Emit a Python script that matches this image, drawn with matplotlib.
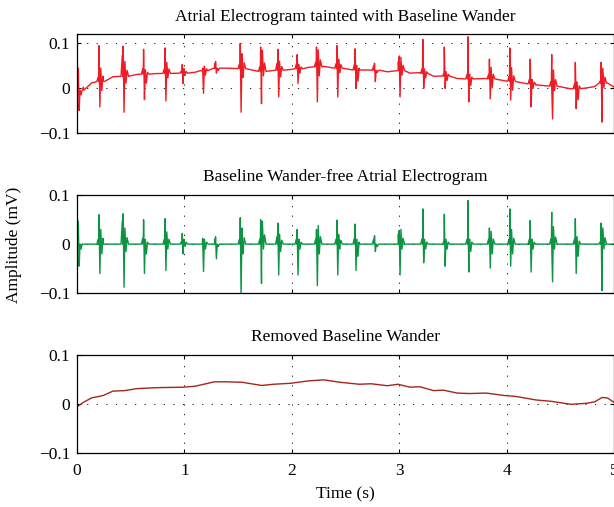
import numpy as np
import matplotlib
matplotlib.use('Agg')
import matplotlib.pyplot as plt
from matplotlib.ticker import FuncFormatter

plt.rcParams['font.family'] = ['Liberation Serif', 'DejaVu Serif']
plt.rcParams['font.size'] = 12.5

# beat times (s) and deflections
beat_t = [0.012, 0.205, 0.43, 0.62, 0.82, 0.98, 1.17, 1.29, 1.52, 1.71, 1.87, 2.05, 2.23,
          2.42, 2.59, 2.77, 3.00, 3.22, 3.42, 3.64, 3.84, 4.03, 4.22, 4.42, 4.64, 4.88]
clean_pre = [0.0, 0.01, 0.047, 0.012, 0.01, 0.005, 0.0, 0.01, 0.01, 0.01, 0.015, 0.01, 0.01,
             0.01, 0.012, 0.01, 0.02, 0.01, 0.005, 0.01, 0.01, 0.01, 0.01, 0.01, 0.01, 0.005]
clean_up = [0.047, 0.06, 0.062, 0.05, 0.052, 0.022, 0.012, 0.015, 0.054, 0.05, 0.043, 0.03, 0.03,
            0.049, 0.041, 0.017, 0.028, 0.072, 0.061, 0.089, 0.033, 0.072, 0.048, 0.065, 0.052, 0.043]
clean_down = [-0.045, -0.06, -0.088, -0.06, -0.054, -0.02, -0.056, -0.03, -0.105, -0.08, -0.063, -0.063, -0.085,
              -0.063, -0.054, -0.015, -0.063, -0.038, -0.045, -0.057, -0.049, -0.045, -0.057, -0.077, -0.06, -0.095]
clean_after = [0.0, 0.03, 0.033, 0.01, 0.025, 0.01, 0.01, 0.0, 0.033, 0.047, 0.02, 0.01, 0.038,
               0.02, 0.01, 0.0, 0.03, 0.01, 0.01, 0.01, 0.026, 0.03, 0.01, 0.036, 0.015, 0.033]
clean_tail = [-0.01, -0.02, -0.015, -0.02, -0.01, -0.005, -0.01, -0.005, -0.02, -0.01, -0.015, -0.01, -0.02,
              -0.01, -0.025, -0.005, -0.01, -0.01, -0.01, -0.015, -0.02, -0.02, -0.01, -0.01, -0.025, -0.01]
# tainted signal peaks (absolute values)
raw_up = [0.045, 0.095, 0.094, 0.087, 0.09, 0.053, 0.045, 0.06, 0.10, 0.092, 0.087, 0.075, 0.092,
          0.095, 0.088, 0.056, 0.071, 0.109, 0.092, 0.115, 0.065, 0.09, 0.065, 0.075, 0.058, 0.058]
raw_down = [-0.049, -0.041, -0.053, -0.025, -0.028, 0.011, -0.011, 0.034, -0.053, -0.034, -0.019, 0.011, -0.03,
            -0.019, 0.0, 0.015, -0.019, 0.0, 0.0, -0.03, -0.023, -0.026, -0.041, -0.068, -0.045, -0.075]

# removed baseline wander
bw_t = [0.0, 0.06, 0.135, 0.244, 0.335, 0.444, 0.554, 0.736, 0.99, 1.10, 1.28, 1.39, 1.54, 1.72,
        1.83, 1.99, 2.16, 2.30, 2.45, 2.63, 2.74, 2.89, 2.99, 3.10, 3.19, 3.32, 3.41, 3.54, 3.65,
        3.81, 3.98, 4.09, 4.27, 4.42, 4.60, 4.74, 4.82, 4.89, 4.94, 5.0]
bw_v = [-0.006, 0.003, 0.012, 0.017, 0.026, 0.027, 0.031, 0.033, 0.034, 0.036, 0.045, 0.045, 0.044, 0.0375,
        0.040, 0.042, 0.047, 0.049, 0.044, 0.040, 0.041, 0.037, 0.040, 0.034, 0.035, 0.027, 0.028, 0.022, 0.021,
        0.022, 0.017, 0.015, 0.008, 0.005, -0.001, 0.001, 0.004, 0.013, 0.012, 0.003]

titles = ['Atrial Electrogram tainted with Baseline Wander',
          'Baseline Wander-free Atrial Electrogram',
          'Removed Baseline Wander']


def beat_path(base_t, base_v, pre, up, down, after, tail):
    t_out, v_out = [], []
    for i, t in enumerate(beat_t):
        b = np.interp(t, base_t, base_v)
        t_out += [t - 0.02, t - 0.008, t - 0.003, t, t + 0.008, t + 0.016, t + 0.026, t + 0.036, t + 0.05]
        v_out += [b, b + pre[i], b, up[i], down[i], b + after[i], b + tail[i], b + 0.4 * after[i], b]
    # add the baseline knots in between
    t_all = np.concatenate([t_out, base_t])
    v_all = np.concatenate([v_out, base_v])
    keep = t_all >= 0
    t_all, v_all = t_all[keep], v_all[keep]
    order = np.argsort(t_all, kind='stable')
    return t_all[order], v_all[order]


zero = [0.0] * len(bw_t)
t_clean, v_clean = beat_path(np.array(bw_t), np.array(zero), clean_pre,
                             clean_up, clean_down, clean_after, clean_tail)
t_raw, v_raw = beat_path(np.array(bw_t), np.array(bw_v), clean_pre,
                         raw_up, raw_down, clean_after, clean_tail)


def fmt(v, pos):
    if abs(v) < 1e-9:
        return '0'
    return ('%g' % v).replace('-', '\u2212')


fig = plt.figure(figsize=(6.14, 5.07), dpi=100)
boxes = [[0.1254, 0.737, 0.8746, 0.195],
         [0.1254, 0.422, 0.8746, 0.193],
         [0.1254, 0.107, 0.8746, 0.193]]
series = [(t_raw, v_raw, '#ee1c24', (-0.1, 0.12)),
          (t_clean, v_clean, '#0b9444', (-0.1, 0.1)),
          (bw_t, bw_v, '#a3271c', (-0.1, 0.1))]

for i, (tt, vv, col, yl) in enumerate(series):
    ax = fig.add_axes(boxes[i])
    ax.plot(tt, vv, color=col, lw=1.0)
    ax.set_xlim(0, 5)
    ax.set_ylim(*yl)
    ax.set_yticks([-0.1, 0, 0.1])
    ax.set_xticks([0, 1, 2, 3, 4, 5])
    ax.yaxis.set_major_formatter(FuncFormatter(fmt))
    ax.grid(True, color='k', lw=0.6, linestyle=(0, (1.5, 10)))
    ax.tick_params(direction='in', length=3, top=True, right=True, pad=5)
    ax.tick_params(axis='x', pad=7.5)
    for s in ax.spines.values():
        s.set_linewidth(0.9)
    ax.set_title(titles[i], fontsize=12.5, pad=10)
    if i < 2:
        ax.set_xticklabels([])
    else:
        ax.set_xlabel('Time (s)', labelpad=5)

fig.text(0.022, 0.517, 'Amplitude (mV)', rotation=90, ha='center', va='center', fontsize=12.5)

fig.savefig('out.png', dpi=100)
